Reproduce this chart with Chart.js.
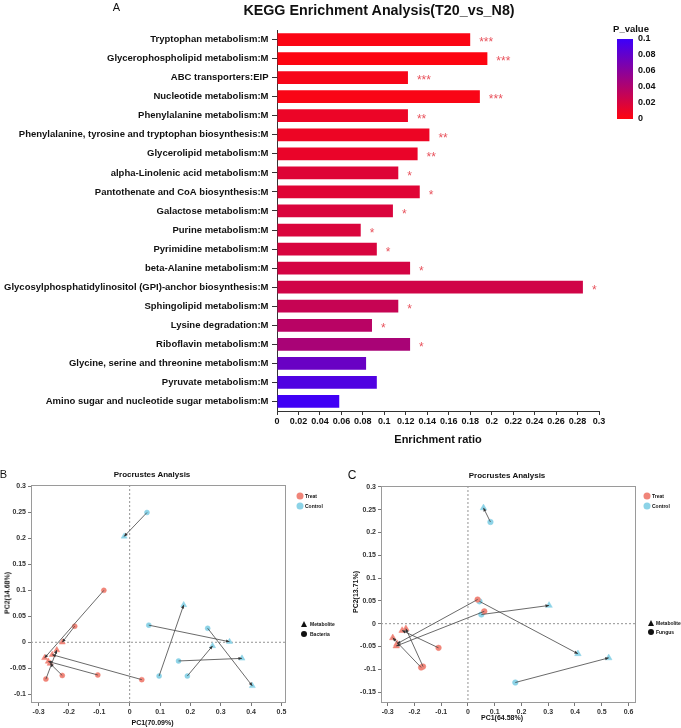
<!DOCTYPE html>
<html>
<head>
<meta charset="utf-8">
<script src="https://cdn.jsdelivr.net/npm/chart.js@4.4.1/dist/chart.umd.min.js"></script>
<style>
  body { margin: 0; width: 681px; height: 728px; position: relative; overflow: hidden; background: #fff;
         font-family: "Liberation Sans", Arial, sans-serif; color: #111; }
  canvas { position: absolute; }
  .t { position: absolute; white-space: nowrap; line-height: 1; transform: translate(-50%, -50%); }
  .l { position: absolute; white-space: nowrap; line-height: 1; transform: translateY(-50%); font-weight: bold; font-size: 5px; }
  .dot { position: absolute; border-radius: 50%; transform: translate(-50%, -50%); }
  .tri { position: absolute; width: 0; height: 0; transform: translate(-50%, -50%);
         border-left: 3.5px solid transparent; border-right: 3.5px solid transparent; border-bottom: 6px solid #111; }
</style>
</head>
<body>

<canvas id="chartA" width="681" height="450" style="left:0;top:0"></canvas>
<canvas id="chartB" width="340" height="268" style="left:0;top:460px"></canvas>
<canvas id="chartC" width="341" height="268" style="left:340px;top:460px"></canvas>

<!-- panel letters and titles -->
<div class="t" style="left:116.5px;top:6.5px;font-size:11px">A</div>
<div class="t" style="left:379px;top:10px;font-size:14.3px;font-weight:bold">KEGG Enrichment Analysis(T20_vs_N8)</div>

<div class="t" style="left:3.5px;top:473.5px;font-size:11px">B</div>
<div class="t" style="left:152px;top:474.5px;font-size:8px;font-weight:bold">Procrustes Analysis</div>
<div class="t" style="left:152.5px;top:721.5px;font-size:7px;font-weight:bold">PC1(70.09%)</div>
<div class="t" style="left:7px;top:593px;font-size:7px;font-weight:bold;transform:translate(-50%,-50%) rotate(-90deg)">PC2(14.68%)</div>

<div class="t" style="left:352px;top:475px;font-size:12px">C</div>
<div class="t" style="left:507px;top:476px;font-size:8px;font-weight:bold">Procrustes Analysis</div>
<div class="t" style="left:502px;top:717px;font-size:7px;font-weight:bold">PC1(64.58%)</div>
<div class="t" style="left:355px;top:592px;font-size:7px;font-weight:bold;transform:translate(-50%,-50%) rotate(-90deg)">PC2(13.71%)</div>

<!-- legends -->
<div class="dot" style="left:300px;top:496px;width:7px;height:7px;background:#F08579"></div>
<div class="l" style="left:305px;top:496px">Treat</div>
<div class="dot" style="left:300px;top:505.5px;width:7px;height:7px;background:#8CD3E7"></div>
<div class="l" style="left:305px;top:505.5px">Control</div>
<div class="tri" style="left:304px;top:624px"></div>
<div class="l" style="left:310px;top:624px">Metabolite</div>
<div class="dot" style="left:304px;top:633.5px;width:6px;height:6px;background:#111"></div>
<div class="l" style="left:310px;top:633.5px">Bacteria</div>

<div class="dot" style="left:647px;top:495.5px;width:7px;height:7px;background:#F08579"></div>
<div class="l" style="left:652px;top:495.5px">Treat</div>
<div class="dot" style="left:647px;top:505.5px;width:7px;height:7px;background:#8CD3E7"></div>
<div class="l" style="left:652px;top:505.5px">Control</div>
<div class="tri" style="left:651px;top:622.5px"></div>
<div class="l" style="left:656px;top:622.5px">Metabolite</div>
<div class="dot" style="left:651px;top:632px;width:6px;height:6px;background:#111"></div>
<div class="l" style="left:656px;top:632px">Fungus</div>

<script>
/* ===================== DATA: KEGG ENRICHMENT ===================== */
const pathways = [
  "Tryptophan metabolism:M",
  "Glycerophospholipid metabolism:M",
  "ABC transporters:EIP",
  "Nucleotide metabolism:M",
  "Phenylalanine metabolism:M",
  "Phenylalanine, tyrosine and tryptophan biosynthesis:M",
  "Glycerolipid metabolism:M",
  "alpha-Linolenic acid metabolism:M",
  "Pantothenate and CoA biosynthesis:M",
  "Galactose metabolism:M",
  "Purine metabolism:M",
  "Pyrimidine metabolism:M",
  "beta-Alanine metabolism:M",
  "Glycosylphosphatidylinositol (GPI)-anchor biosynthesis:M",
  "Sphingolipid metabolism:M",
  "Lysine degradation:M",
  "Riboflavin metabolism:M",
  "Glycine, serine and threonine metabolism:M",
  "Pyruvate metabolism:M",
  "Amino sugar and nucleotide sugar metabolism:M"
];
const enrichRatio = [0.180, 0.196, 0.122, 0.189, 0.122, 0.142, 0.131, 0.113, 0.133, 0.108,
                     0.078, 0.093, 0.124, 0.285, 0.113, 0.0885, 0.124, 0.083, 0.093, 0.058];
const pValues = [0.002, 0.001, 0.004, 0.003, 0.010, 0.009, 0.011, 0.017, 0.016, 0.019,
                 0.019, 0.020, 0.022, 0.024, 0.029, 0.036, 0.044, 0.077, 0.090, 0.098];
const stars = ["***", "***", "***", "***", "**", "**", "**", "*", "*", "*",
               "*", "*", "*", "*", "*", "*", "*", "", "", ""];
const pLegendTicks = [0, 0.02, 0.04, 0.06, 0.08, 0.1];

/* ===================== DATA: PROCRUSTES (pairs by index) ===================== */
// B: bacteria (circle) vs metabolite (triangle)
const bTreatCircle = [[-0.085, 0.100], [-0.181, 0.031], [0.040, -0.072], [-0.105, -0.063], [-0.222, -0.064], [-0.276, -0.071]];
const bTreatTri    = [[-0.280, -0.030], [-0.222, 0.000], [-0.255, -0.024], [-0.268, -0.037], [-0.262, -0.041], [-0.240, -0.015]];
const bCtrlCircle  = [[0.057, 0.250], [0.063, 0.033], [0.097, -0.065], [0.257, 0.027], [0.190, -0.065], [0.161, -0.036]];
const bCtrlTri     = [[-0.018, 0.204], [0.329, 0.001], [0.178, 0.072], [0.404, -0.084], [0.273, -0.007], [0.370, -0.031]];

// C: fungus (circle) vs metabolite (triangle)
const cTreatCircle = [[0.036, 0.053], [0.061, 0.027], [-0.110, -0.053], [-0.175, -0.096], [-0.168, -0.094]];
const cTreatTri    = [[-0.265, -0.044], [-0.268, -0.049], [-0.246, -0.015], [-0.281, -0.031], [-0.232, -0.011]];
const cCtrlCircle  = [[0.084, 0.223], [0.043, 0.049], [0.050, 0.020], [0.177, -0.129]];
const cCtrlTri     = [[0.058, 0.254], [0.411, -0.066], [0.303, 0.040], [0.526, -0.075]];

/* ===================== HELPERS ===================== */
Chart.defaults.font.family = '"Liberation Sans", Arial, sans-serif';

const TREAT = "#F08579";
const CONTROL = "#8CD3E7";

// p_value colour scale: red (0) -> blue (0.1)
function pColor(p) {
  const t = Math.max(0, Math.min(p / 0.1, 1));
  const r = Math.round(255 + (60 - 255) * t);
  const g = Math.round(5 * (1 - t));
  const b = Math.round(15 + (250 - 15) * t);
  return `rgb(${r},${g},${b})`;
}

const fmt = (v) => String(+Number(v).toFixed(2));
const toXY = (arr) => arr.map(([x, y]) => ({ x, y }));

/* ===================== PLUGINS ===================== */
const starsPlugin = {
  id: "stars",
  afterDatasetsDraw(chart) {
    const ctx = chart.ctx;
    const meta = chart.getDatasetMeta(0);
    ctx.save();
    ctx.fillStyle = "#e8525c";
    ctx.font = '12px "Liberation Sans", Arial, sans-serif';
    ctx.textAlign = "left";
    ctx.textBaseline = "middle";
    meta.data.forEach((bar, i) => {
      if (stars[i]) ctx.fillText(stars[i], bar.x + 9, bar.y + 3.5);
    });
    ctx.restore();
  }
};

const colorbarPlugin = {
  id: "colorbar",
  afterDraw(chart) {
    const ctx = chart.ctx;
    const x = 617, top = 39, w = 16, h = 80;
    ctx.save();
    const grad = ctx.createLinearGradient(0, top + h, 0, top);
    grad.addColorStop(0, pColor(0));
    grad.addColorStop(1, pColor(0.1));
    ctx.fillStyle = grad;
    ctx.fillRect(x, top, w, h);

    ctx.fillStyle = "#111";
    ctx.font = 'bold 9.5px "Liberation Sans", Arial, sans-serif';
    ctx.textAlign = "center";
    ctx.textBaseline = "middle";
    ctx.fillText("P_value", 631, 29.5);

    ctx.font = 'bold 9px "Liberation Sans", Arial, sans-serif';
    ctx.textAlign = "left";
    pLegendTicks.forEach((v) => {
      const y = top + h - (v / 0.1) * h;
      ctx.fillText(fmt(v), x + w + 5, y);
    });
    ctx.restore();
  }
};

// full frame + dotted zero lines for the procrustes panels
const framePlugin = {
  id: "frame",
  beforeDatasetsDraw(chart) {
    const { ctx, chartArea: a, scales } = chart;
    const x0 = scales.x.getPixelForValue(0);
    const y0 = scales.y.getPixelForValue(0);
    ctx.save();
    ctx.strokeStyle = "#777";
    ctx.lineWidth = 0.8;
    ctx.setLineDash([2, 2]);
    ctx.beginPath();
    ctx.moveTo(x0, a.top); ctx.lineTo(x0, a.bottom);
    ctx.moveTo(a.left, y0); ctx.lineTo(a.right, y0);
    ctx.stroke();
    ctx.setLineDash([]);
    ctx.strokeStyle = "#9a9a9a";
    ctx.lineWidth = 1;
    ctx.strokeRect(a.left + 0.5, a.top + 0.5, a.right - a.left - 1, a.bottom - a.top - 1);
    ctx.restore();
  }
};

const arrowPlugin = {
  id: "arrows",
  afterDatasetsDraw(chart) {
    const ctx = chart.ctx;
    ctx.save();
    ctx.fillStyle = "#333";
    chart.data.datasets.forEach((ds, i) => {
      if (!ds.arrow) return;
      const pts = chart.getDatasetMeta(i).data;
      const a = pts[0], b = pts[1];
      const ang = Math.atan2(b.y - a.y, b.x - a.x);
      const len = 3.5, half = 1.6;
      ctx.beginPath();
      ctx.moveTo(b.x, b.y);
      ctx.lineTo(b.x - len * Math.cos(ang) + half * Math.sin(ang), b.y - len * Math.sin(ang) - half * Math.cos(ang));
      ctx.lineTo(b.x - len * Math.cos(ang) - half * Math.sin(ang), b.y - len * Math.sin(ang) + half * Math.cos(ang));
      ctx.closePath();
      ctx.fill();
    });
    ctx.restore();
  }
};

/* ===================== PANEL A: ENRICHMENT BARS ===================== */
new Chart(document.getElementById("chartA"), {
  type: "bar",
  data: {
    labels: pathways,
    datasets: [{
      data: enrichRatio,
      backgroundColor: pValues.map(pColor),
      categoryPercentage: 1,
      barPercentage: 0.67
    }]
  },
  options: {
    indexAxis: "y",
    responsive: false,
    animation: false,
    layout: { padding: { top: 30, right: 82, left: 0, bottom: 0 } },
    plugins: { legend: { display: false }, tooltip: { enabled: false } },
    scales: {
      x: {
        min: 0,
        max: 0.3,
        ticks: {
          stepSize: 0.02,
          autoSkip: false,
          maxRotation: 0,
          padding: 1,
          color: "#111",
          font: { size: 9, weight: "bold" },
          callback: (v) => fmt(v)
        },
        grid: { drawOnChartArea: false, tickLength: 4, color: "#333" },
        border: { color: "#333" },
        title: {
          display: true,
          text: "Enrichment ratio",
          color: "#111",
          font: { size: 11, weight: "bold" },
          padding: { top: 0, bottom: 3.5 }
        },
        afterFit: (s) => { s.height = 39; }
      },
      y: {
        ticks: { autoSkip: false, padding: 3.5, color: "#111", font: { size: 9.5, weight: "bold" } },
        grid: { drawOnChartArea: false, offset: false, tickLength: 5, color: "#333" },
        border: { color: "#333" },
        afterFit: (s) => { s.width = 277; }
      }
    }
  },
  plugins: [starsPlugin, colorbarPlugin]
});

/* ===================== PANELS B & C: PROCRUSTES ===================== */
function procrustes(canvasId, tCircle, tTri, cCircle, cTri, xRange, yRange, box, radius) {
  const segments = [];
  const addPairs = (circles, tris) => {
    circles.forEach((c, i) => {
      segments.push({
        type: "scatter",
        data: toXY([c, tris[i]]),
        showLine: true,
        arrow: true,
        borderColor: "#444",
        borderWidth: 0.8,
        pointRadius: 0
      });
    });
  };
  addPairs(tCircle, tTri);
  addPairs(cCircle, cTri);

  const pts = (arr, color, style, r) => ({
    data: toXY(arr),
    pointStyle: style,
    pointRadius: r,
    backgroundColor: color,
    borderColor: color,
    borderWidth: 0.5
  });

  const tickStyle = { size: 7, weight: "bold" };

  return new Chart(document.getElementById(canvasId), {
    type: "scatter",
    data: {
      datasets: [
        ...segments,
        pts(tCircle, TREAT, "circle", radius),
        pts(cCircle, CONTROL, "circle", radius),
        pts(tTri, TREAT, "triangle", radius + 1),
        pts(cTri, CONTROL, "triangle", radius + 1)
      ]
    },
    options: {
      responsive: false,
      animation: false,
      layout: { padding: { top: box.top, right: box.right, left: 0, bottom: 0 } },
      plugins: { legend: { display: false }, tooltip: { enabled: false } },
      scales: {
        x: {
          type: "linear",
          min: xRange[0],
          max: xRange[1],
          ticks: {
            stepSize: 0.1,
            includeBounds: false,
            autoSkip: false,
            maxRotation: 0,
            padding: 2,
            color: "#333",
            font: tickStyle,
            callback: (v) => fmt(v)
          },
          grid: { drawOnChartArea: false, tickLength: 3, color: "#777" },
          border: { display: false },
          afterFit: (s) => { s.height = box.bottom; }
        },
        y: {
          type: "linear",
          min: yRange[0],
          max: yRange[1],
          ticks: {
            stepSize: 0.05,
            includeBounds: false,
            autoSkip: false,
            padding: 2,
            color: "#333",
            font: tickStyle,
            callback: (v) => fmt(v)
          },
          grid: { drawOnChartArea: false, tickLength: 3, color: "#777" },
          border: { display: false },
          afterFit: (s) => { s.width = box.left; }
        }
      }
    },
    plugins: [framePlugin, arrowPlugin]
  });
}

procrustes("chartB", bTreatCircle, bTreatTri, bCtrlCircle, bCtrlTri,
  [-0.325, 0.515], [-0.117, 0.303], { top: 25, right: 54, left: 31, bottom: 25 }, 2.5);

procrustes("chartC", cTreatCircle, cTreatTri, cCtrlCircle, cCtrlTri,
  [-0.325, 0.628], [-0.174, 0.302], { top: 26, right: 45, left: 41, bottom: 25 }, 2.8);
</script>
</body>
</html>
